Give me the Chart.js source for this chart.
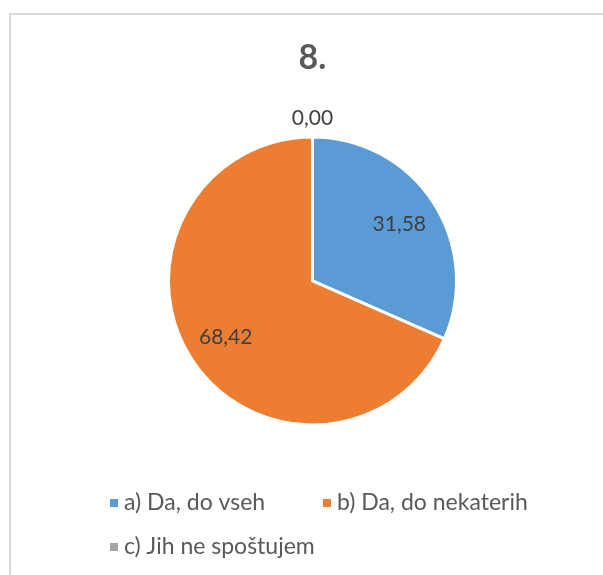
<!DOCTYPE html>
<html>
<head>
<meta charset="utf-8">
<script src="https://cdn.jsdelivr.net/npm/chart.js@4.4.0/dist/chart.umd.min.js"></script>
<style>
  html, body { margin: 0; padding: 0; background: #fff; overflow: hidden; }
  #wrap { position: relative; width: 603px; height: 575px; }
  #frame { position: absolute; left: 9px; top: 13px; width: 700px; height: 700px; border: 2px solid #d9d9d9; }
  #chart { position: absolute; left: 0; top: 0; }
</style>
</head>
<body>
<div id="wrap">
  <div id="frame"></div>
  <canvas id="chart" width="603" height="575"></canvas>
</div>
<script>
const chartTitle = '8.';
const categories = ['a) Da, do vseh', 'b) Da, do nekaterih', 'c) Jih ne spoštujem'];
const percentages = [31.58, 68.42, 0.00];
const sliceColors = ['#5B9BD5', '#ED7D31', '#A5A5A5'];

const FONT = 'Lato';

// value labels: inside the slice, or just outside when the slice is empty
const sliceLabels = {
  id: 'sliceLabels',
  afterDatasetsDraw(chart) {
    const ctx = chart.ctx;
    const meta = chart.getDatasetMeta(0);
    ctx.save();
    ctx.font = '21px ' + FONT;
    ctx.fillStyle = '#404040';
    ctx.textAlign = 'center';
    ctx.textBaseline = 'middle';
    meta.data.forEach((arc, i) => {
      const p = arc.getProps(['x', 'y', 'startAngle', 'endAngle', 'outerRadius'], true);
      const mid = (p.startAngle + p.endAngle) / 2;
      const value = percentages[i];
      const r = value > 0 ? p.outerRadius * 0.72 : p.outerRadius + 19;
      ctx.fillText(value.toFixed(2).replace('.', ','), p.x + Math.cos(mid) * r, p.y + Math.sin(mid) * r);
    });
    ctx.restore();
  }
};

// legend laid out in two columns, like the Excel one
const gridLegend = {
  id: 'gridLegend',
  afterDraw(chart) {
    const ctx = chart.ctx;
    const cols = [110, 323];
    const rows = [503, 547];
    ctx.save();
    ctx.font = '23px ' + FONT;
    ctx.textBaseline = 'middle';
    ctx.textAlign = 'left';
    categories.forEach((label, i) => {
      const x = cols[i % 2];
      const y = rows[Math.floor(i / 2)];
      ctx.fillStyle = sliceColors[i];
      ctx.fillRect(x, y - 4, 8, 8);
      ctx.fillStyle = '#595959';
      ctx.fillText(label, x + 14, y);
    });
    ctx.restore();
  }
};

new Chart(document.getElementById('chart'), {
  type: 'pie',
  data: {
    labels: categories,
    datasets: [{
      data: percentages,
      backgroundColor: sliceColors,
      borderColor: '#ffffff',
      borderWidth: 3
    }]
  },
  options: {
    responsive: false,
    devicePixelRatio: 1,
    animation: false,
    events: [],
    radius: 144,
    layout: { padding: { left: 30, right: 8, top: 0, bottom: 149 } },
    plugins: {
      legend: { display: false },
      tooltip: { enabled: false },
      title: {
        display: true,
        text: chartTitle,
        color: '#595959',
        font: { family: FONT, size: 34, weight: 'bold' },
        padding: { top: 38, bottom: 57 }
      }
    }
  },
  plugins: [sliceLabels, gridLegend]
});
</script>
</body>
</html>
